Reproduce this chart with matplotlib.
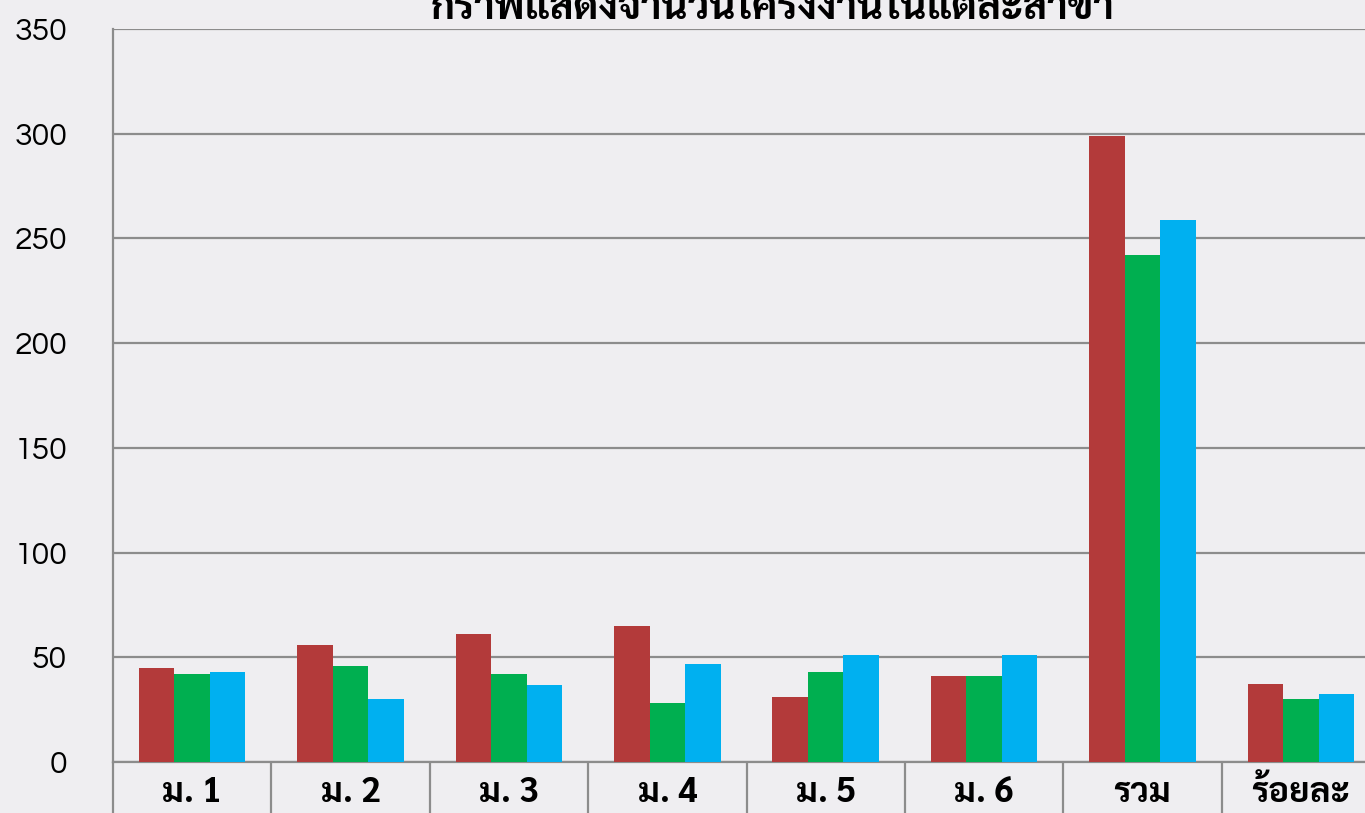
import matplotlib
matplotlib.use("Agg")
import matplotlib.pyplot as plt
import numpy as np

categories = ["ม. 1", "ม. 2", "ม. 3", "ม. 4", "ม. 5", "ม. 6", "รวม", "ร้อยละ"]
series_red = [45, 56, 61, 65, 31, 41, 299, 37.38]
series_green = [42, 46, 42, 28, 43, 41, 242, 30.25]
series_blue = [43, 30, 37, 47, 51, 51, 259, 32.38]
title = "กราฟแสดงจำนวนโครงงานในแต่ละสาขา"
yticks = [0, 50, 100, 150, 200, 250, 300, 350]

thai = ['Sarabun', 'Noto Sans Thai', 'DejaVu Sans']
num = ['Questrial', 'Didact Gothic', 'DejaVu Sans']
plt.rcParams['font.family'] = thai

W, H = 1365, 813
fig = plt.figure(figsize=(W / 100, H / 100), dpi=100)
bg = "#EFEEF1"
fig.patch.set_facecolor(bg)
ax = fig.add_axes([113 / W, (H - 762) / H, (1380 - 113) / W, (762 - 29) / H])
ax.set_facecolor(bg)

x = np.arange(len(categories))
bw = 0.224
colors = ["#B33A3A", "#00AF50", "#00B0F0"]
for i, (vals, c) in enumerate(zip([series_red, series_green, series_blue], colors)):
    ax.bar(x + (i - 1) * bw, vals, bw, color=c, zorder=3)

ax.set_xlim(-0.5, len(categories) - 0.5)
ax.set_ylim(0, 350)
ax.set_yticks(yticks)
ax.yaxis.grid(True, color="#8C8C8C", linewidth=1.6, zorder=0)
ax.tick_params(axis='y', length=0, pad=33, labelsize=23)
for lab in ax.get_yticklabels():
    lab.set_fontfamily(num)
    lab.set_fontweight('bold')

ax.set_xticks(x)
ax.set_xticklabels(categories, fontsize=25, fontweight='bold')
ax.tick_params(axis='x', length=0, pad=10)
ax.set_xticks(np.arange(len(categories) + 1) - 0.5, minor=True)
ax.tick_params(axis='x', which='minor', length=52, width=1.6, color="#8C8C8C")

for s in ['top', 'right']:
    ax.spines[s].set_visible(False)
for s in ['left', 'bottom']:
    ax.spines[s].set_color("#8C8C8C")
    ax.spines[s].set_linewidth(1.6)

fig.text(773 / W, 1 - 19 / H, title, ha='center', va='baseline', fontsize=29,
         fontweight='bold')

fig.savefig("out.png", dpi=100, facecolor=bg)
